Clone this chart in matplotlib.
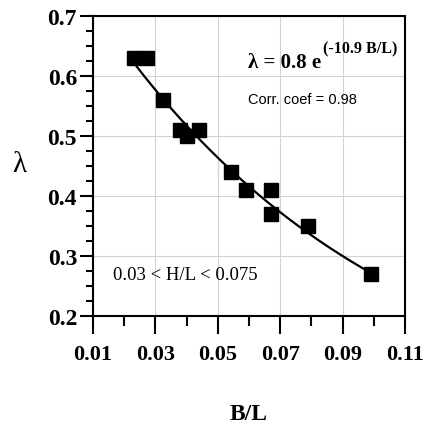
import numpy as np
import matplotlib
matplotlib.use("Agg")
from matplotlib import pyplot as plt
from matplotlib.ticker import MultipleLocator

# measured points (B/L, lambda)
bl = [0.023, 0.0273, 0.0323, 0.038, 0.040, 0.0441, 0.0543, 0.0591, 0.0671, 0.0671, 0.079, 0.099]
lam = [0.63, 0.63, 0.56, 0.51, 0.50, 0.51, 0.44, 0.41, 0.41, 0.37, 0.35, 0.27]

# fitted curve lambda = a * exp(b * B/L)
fit_a = 0.8
fit_b = -10.9
fit_range = [0.023, 0.099]

xticks = [0.01, 0.03, 0.05, 0.07, 0.09, 0.11]
yticks = [0.2, 0.3, 0.4, 0.5, 0.6, 0.7]

serif = ["Liberation Serif", "DejaVu Serif"]
sans = ["Liberation Sans Narrow", "Liberation Sans", "DejaVu Sans"]

fig = plt.figure(figsize=(4.23, 4.27), dpi=100)
ax = fig.add_axes([0.2199, 0.2576, 0.7375, 0.7025])

ax.grid(True, which="major", color="#d2d2d2", linewidth=0.8)
ax.set_axisbelow(True)

xf = np.linspace(fit_range[0], fit_range[1], 200)
ax.plot(xf, fit_a * np.exp(fit_b * xf), "-", color="black", linewidth=1.6)
ax.plot(bl, lam, "s", color="black", markersize=9.5)

ax.set_xlim(0.01, 0.11)
ax.set_ylim(0.2, 0.7)
ax.set_xticks(xticks)
ax.set_yticks(yticks)
ax.xaxis.set_minor_locator(MultipleLocator(0.01))
ax.yaxis.set_minor_locator(MultipleLocator(0.025))
ax.set_xticklabels(["%.2f" % v for v in xticks], fontfamily=serif,
                   fontweight="bold", fontsize=16)
ax.set_yticklabels(["%.1f" % v for v in yticks], fontfamily=serif,
                   fontweight="bold", fontsize=17)

ax.tick_params(axis="x", which="major", direction="out", length=13, width=1.5, pad=7)
ax.tick_params(axis="x", which="minor", direction="out", length=7, width=1.5)
ax.tick_params(axis="y", which="major", direction="out", length=9.5, width=1.5, pad=2)
ax.tick_params(axis="y", which="minor", direction="out", length=5, width=1.5)
for s in ax.spines.values():
    s.set_linewidth(1.5)

# axis labels
fig.text(249 / 423, 1 - 415 / 427, "B/L", ha="center", va="center",
         fontfamily=serif, fontweight="bold", fontsize=17)
fig.text(19 / 423, 1 - 165 / 427, "λ", ha="center", va="center",
         fontfamily=serif, fontsize=21)

# annotations
fig.text(248 / 423, 1 - 68 / 427, "λ = 0.8 e", ha="left", va="baseline",
         fontfamily=serif, fontweight="bold", fontsize=15)
fig.text(323 / 423, 1 - 53 / 427, "(-10.9 B/L)", ha="left", va="baseline",
         fontfamily=serif, fontweight="bold", fontsize=11.5)
fig.text(248 / 423, 1 - 104 / 427, "Corr. coef = 0.98", ha="left", va="baseline",
         fontfamily=sans, fontsize=10.5)
fig.text(113 / 423, 1 - 280 / 427, "0.03 < H/L < 0.075", ha="left", va="baseline",
         fontfamily=serif, fontsize=13.5)

fig.savefig("out.png", dpi=100)
